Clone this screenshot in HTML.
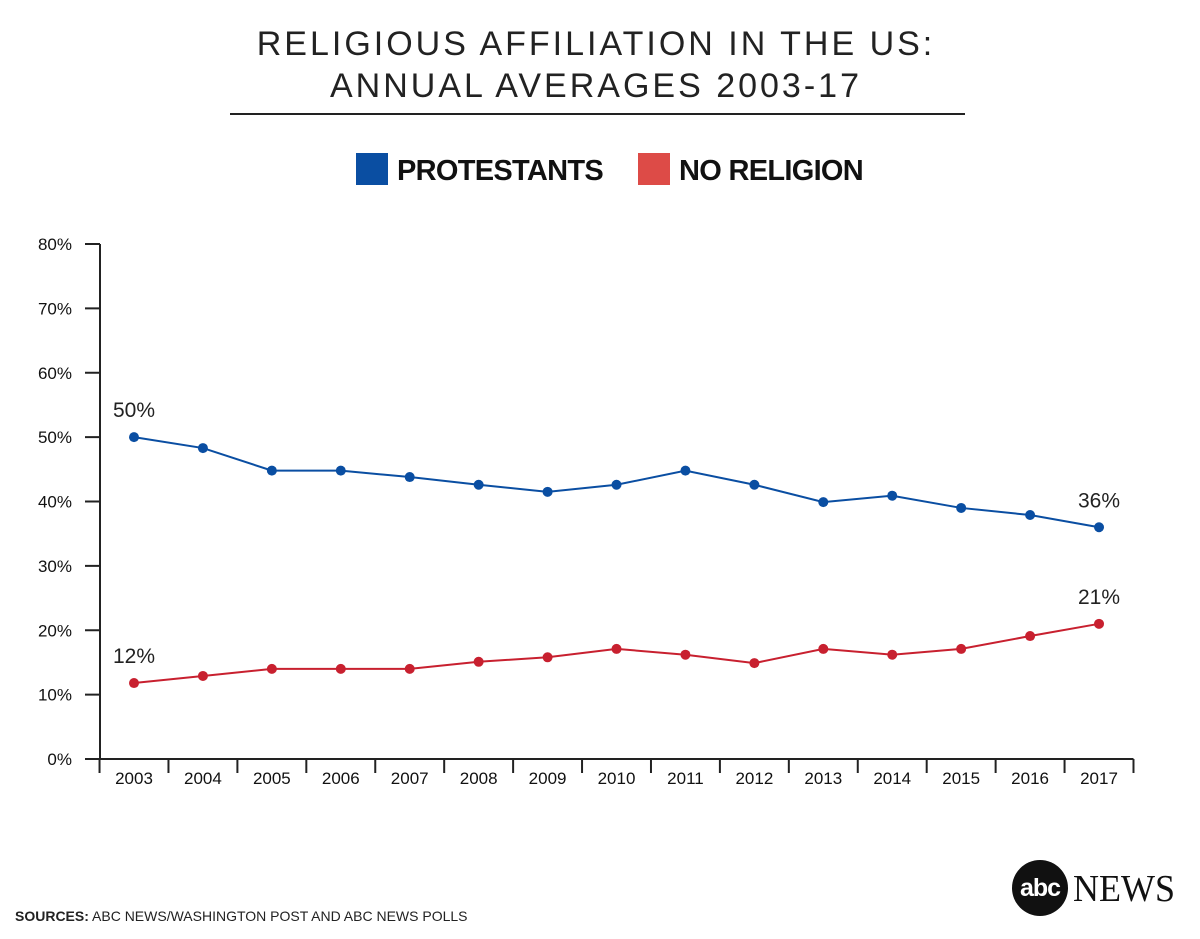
<!DOCTYPE html>
<html><head><meta charset="utf-8"><style>
body{margin:0;background:#fff;width:1200px;height:934px;overflow:hidden;font-family:"Liberation Sans",sans-serif}
</style></head><body>
<svg width="1200" height="934" viewBox="0 0 1200 934" xmlns="http://www.w3.org/2000/svg">
<text x="596" y="55" text-anchor="middle" font-size="34" letter-spacing="3" fill="#222">RELIGIOUS AFFILIATION IN THE US:</text>
<text x="596" y="97" text-anchor="middle" font-size="34" letter-spacing="3" fill="#222">ANNUAL AVERAGES 2003-17</text>
<line x1="230" y1="114" x2="965" y2="114" stroke="#222" stroke-width="2"/>
<g>
<rect x="356" y="153" width="32" height="32" fill="#0a4ea2"/>
<text x="397" y="180" font-size="29" font-weight="bold" fill="#111" letter-spacing="-0.7">PROTESTANTS</text>
<rect x="638" y="153" width="32" height="32" fill="#dd4b47"/>
<text x="679" y="180" font-size="29" font-weight="bold" fill="#111" letter-spacing="-0.7">NO RELIGION</text>
</g>
<g id="plot"></g>
<text x="15" y="921" font-size="14" fill="#222"><tspan font-weight="bold">SOURCES:</tspan> ABC NEWS/WASHINGTON POST AND ABC NEWS POLLS</text>
<g>
<circle cx="1040" cy="888" r="28" fill="#111"/>
<text x="1040" y="896" text-anchor="middle" font-size="25" font-weight="bold" fill="#fff" letter-spacing="-1">abc</text>
<text x="1073" y="901" font-family="Liberation Serif,serif" font-size="38" fill="#111" textLength="102" lengthAdjust="spacingAndGlyphs">NEWS</text>
</g>
</svg>
<script>
const years=["2003","2004","2005","2006","2007","2008","2009","2010","2011","2012","2013","2014","2015","2016","2017"];
const protestants=[50,48.3,44.8,44.8,43.8,42.6,41.5,42.6,44.8,42.6,39.9,40.9,39,37.9,36];
const noReligion=[11.8,12.9,14,14,14,15.1,15.8,17.1,16.2,14.9,17.1,16.2,17.1,19.1,21];
const yTicks=[0,10,20,30,40,50,60,70,80];
const NS="http://www.w3.org/2000/svg";
const g=document.getElementById('plot');
const x0=134,step=68.93,yBase=759,yPer=6.4375;
const X=i=>x0+i*step, Y=v=>yBase-v*yPer;
function mk(t,a){const e=document.createElementNS(NS,t);for(const k in a)e.setAttribute(k,a[k]);g.appendChild(e);return e;}
let e=mk('line',{x1:100,y1:Y(80),x2:100,y2:yBase,stroke:'#222','stroke-width':2});


e=mk('line',{x1:85,y1:yBase,x2:X(14)+step/2,y2:yBase,stroke:'#222','stroke-width':2});


yTicks.forEach(v=>{
 const t=mk('line',{x1:85,x2:100,y1:Y(v),y2:Y(v),stroke:'#222','stroke-width':2});
 
 
 const l=mk('text',{x:72,y:Y(v)+6,'text-anchor':'end','font-size':17,fill:'#111'});
 l.textContent=v+'%';
 
 
});
years.forEach((yr,i)=>{
 const t=mk('line',{x1:X(i)-step/2,x2:X(i)-step/2,y1:yBase,y2:yBase+14,stroke:'#222','stroke-width':2});
 
 
 const l=mk('text',{x:X(i),y:yBase+25,'text-anchor':'middle','font-size':17,fill:'#111'});
 l.textContent=yr;
 
 
});
const lt=mk('line',{x1:X(14)+step/2,x2:X(14)+step/2,y1:yBase,y2:yBase+14,stroke:'#222','stroke-width':2});


function series(vals,color,name){
 const p=mk('polyline',{points:vals.map((v,i)=>X(i)+','+Y(v)).join(' '),fill:'none',stroke:color,'stroke-width':2});
 
 
 vals.forEach((v,i)=>{
  const c=mk('circle',{cx:X(i),cy:Y(v),r:5,fill:color});
  
  
 });
 [0,vals.length-1].forEach(i=>{
  const l=mk('text',{x:X(i),y:Y(vals[i])-20,'text-anchor':'middle','font-size':21,fill:'#222'});
  l.textContent=Math.round(vals[i])+'%';
  
  
 });
}
series(protestants,'#0a4ea2','protestants');
series(noReligion,'#c8202f','no-religion');
</script>
</body></html>
